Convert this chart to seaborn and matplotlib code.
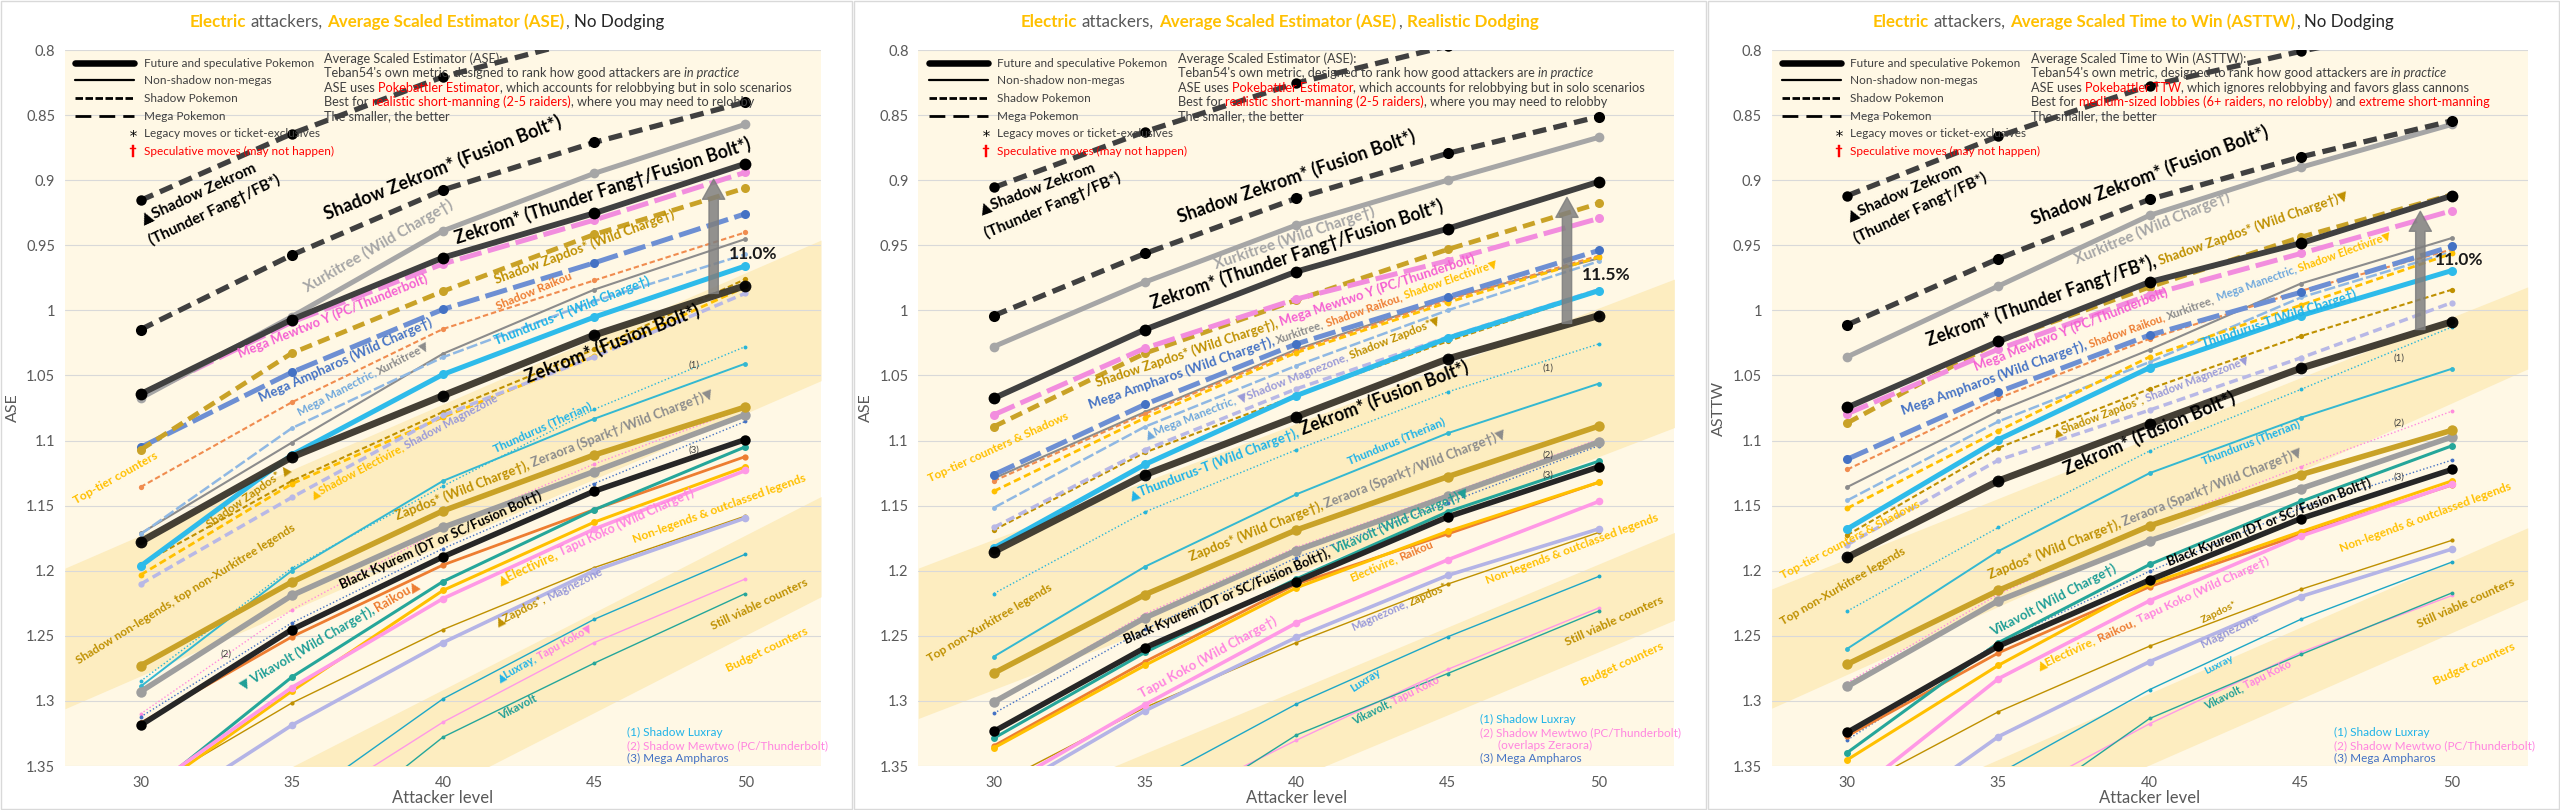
import numpy as np
import matplotlib
matplotlib.use("Agg")
import matplotlib.pyplot as plt
import matplotlib.transforms as mtransforms
from matplotlib.lines import Line2D
from matplotlib.legend_handler import HandlerLine2D
from matplotlib.patches import Rectangle
import seaborn as sns

sns.set_style("white")
plt.rcParams["font.family"] = ["Lato", "DejaVu Sans"]

LEVELS = [30, 35, 40, 45, 50]
METRICS = ["ASE", "ASE", "ASTTW"]
PCT_TEXT = ["11.0%", "11.5%", "11.0%"]

# one row per panel: ASE no dodging, ASE realistic dodging, ASTTW no dodging
shadow_zekrom_tf = [[0.9155, 0.8643, 0.8206, 0.790, 0.765],
                    [0.9056, 0.8627, 0.8254, 0.797, 0.772],
                    [0.9119, 0.8663, 0.8274, 0.801, 0.777]]
shadow_zekrom_fb = [[1.0147, 0.9575, 0.9075, 0.871, 0.840],
                    [1.004, 0.9563, 0.9139, 0.8794, 0.8512],
                    [1.0111, 0.9603, 0.9147, 0.8821, 0.8544]]
xurkitree_wc = [[1.0675, 1.0048, 0.9389, 0.8948, 0.8571],
                [1.0278, 0.9782, 0.9345, 0.900, 0.8671],
                [1.0357, 0.9813, 0.927, 0.8901, 0.8571]]
zekrom_tf = [[1.0643, 1.0071, 0.9595, 0.9254, 0.8873],
             [1.0675, 1.0147, 0.9702, 0.9373, 0.9012],
             [1.0746, 1.0238, 0.9782, 0.9484, 0.9119]]
mega_mewtwo_y = [[1.066, 1.009, 0.9643, 0.9306, 0.894],
                 [1.0802, 1.029, 0.9913, 0.9619, 0.9294],
                 [1.0794, 1.0298, 0.9881, 0.9563, 0.9234]]
shadow_zapdos_wc = [[1.1071, 1.0329, 0.9853, 0.9417, 0.906],
                    [1.0893, 1.0329, 0.9921, 0.9532, 0.9179],
                    [1.0865, 1.0238, 0.9821, 0.9437, 0.9111]]
mega_ampharos_wc = [[1.1052, 1.0476, 0.9992, 0.9635, 0.9258],
                    [1.1262, 1.0722, 1.0258, 0.9897, 0.954],
                    [1.1143, 1.0627, 1.019, 0.9861, 0.9508]]
shadow_raikou = [[1.1357, 1.0706, 1.0143, 0.977, 0.9401],
                 [1.131, 1.0794, 1.031, 0.992, 0.958],
                 [1.1222, 1.0675, 1.0218, 0.985, 0.9532]]
xurkitree = [[1.1714, 1.1016, 1.0333, 0.9841, 0.9452],
             [1.129, 1.078, 1.030, 0.991, 0.960],
             [1.1357, 1.0774, 1.0302, 0.9794, 0.9444]]
mega_manectric = [[1.172, 1.0905, 1.036, 0.993, 0.957],
                  [1.1516, 1.0893, 1.0425, 1.000, 0.9623],
                  [1.146, 1.0853, 1.0397, 0.9901, 0.955]]
shadow_electivire = [[1.2032, 1.1333, 1.082, 1.035, 0.982],
                     [1.1389, 1.0825, 1.0325, 0.994, 0.9591],
                     [1.152, 1.0925, 1.0357, 0.996, 0.9563]]
shadow_zapdos = [[1.1952, 1.131, 1.078, 1.030, 0.976],
                 [1.1687, 1.1091, 1.0655, 1.0238, 0.9853],
                 [1.1726, 1.1056, 1.0603, 1.0198, 0.9841]]
shadow_magnezone = [[1.2103, 1.1437, 1.0806, 1.0357, 0.9869],
                    [1.1667, 1.1071, 1.0603, 1.0206, 0.9841],
                    [1.180, 1.115, 1.0766, 1.0365, 0.994]]
thundurus_t_wc = [[1.1964, 1.111, 1.0492, 1.0052, 0.9659],
                  [1.1825, 1.1183, 1.0655, 1.0214, 0.9849],
                  [1.1679, 1.0992, 1.044, 1.004, 0.9694]]
zekrom_fb = [[1.1778, 1.1127, 1.0655, 1.019, 0.981],
             [1.1853, 1.1262, 1.0817, 1.0373, 1.004],
             [1.1897, 1.131, 1.0873, 1.0444, 1.0087]]
shadow_luxray = [[1.2849, 1.198, 1.135, 1.076, 1.0278],
                 [1.2175, 1.1548, 1.1071, 1.0627, 1.0258],
                 [1.231, 1.1667, 1.108, 1.0607, 1.0127]]
thundurus_therian = [[1.2889, 1.2, 1.131, 1.0833, 1.0409],
                     [1.2659, 1.1968, 1.1413, 1.0944, 1.0563],
                     [1.2599, 1.1849, 1.125, 1.0825, 1.0448]]
zapdos_wc = [[1.273, 1.2087, 1.154, 1.1111, 1.0742],
             [1.2786, 1.2183, 1.1687, 1.1278, 1.0889],
             [1.2718, 1.2151, 1.1655, 1.1262, 1.0921]]
zeraora = [[1.2929, 1.219, 1.1667, 1.1238, 1.0802],
           [1.3008, 1.2361, 1.1845, 1.1429, 1.1012],
           [1.2889, 1.223, 1.177, 1.1369, 1.0972]]
shadow_mewtwo = [[1.31, 1.23, 1.168, 1.118, 1.075],
                 [1.301, 1.233, 1.182, 1.141, 1.099],
                 [1.286, 1.218, 1.165, 1.12, 1.0774]]
mega_ampharos = [[1.3123, 1.24, 1.183, 1.133, 1.0853],
                 [1.3095, 1.245, 1.19, 1.148, 1.104],
                 [1.33, 1.255, 1.2004, 1.152, 1.115]]
black_kyurem = [[1.3187, 1.2452, 1.1893, 1.1389, 1.0992],
                [1.3234, 1.2591, 1.2083, 1.1587, 1.1202],
                [1.3242, 1.2579, 1.2071, 1.1599, 1.1222]]
raikou = [[1.317, 1.2508, 1.1956, 1.153, 1.1123],
          [1.3345, 1.2698, 1.2103, 1.1718, 1.1321],
          [1.327, 1.2631, 1.2123, 1.172, 1.1341]]
vikavolt_wc = [[1.375, 1.2817, 1.2083, 1.1532, 1.1048],
               [1.3286, 1.2627, 1.2063, 1.1548, 1.1159],
               [1.3397, 1.2552, 1.1952, 1.1468, 1.104]]
electivire = [[1.375, 1.2925, 1.2151, 1.1627, 1.1202],
              [1.3361, 1.2726, 1.2131, 1.1698, 1.1321],
              [1.3452, 1.2726, 1.21, 1.17, 1.131]]
tapu_koko_wc = [[1.372, 1.2897, 1.2214, 1.168, 1.123],
                [1.37, 1.3028, 1.2401, 1.1917, 1.1468],
                [1.375, 1.2829, 1.223, 1.1734, 1.1337]]
zapdos = [[1.37, 1.3016, 1.2452, 1.1976, 1.158],
          [1.365, 1.305, 1.2552, 1.2103, 1.1706],
          [1.37, 1.3083, 1.2579, 1.2143, 1.1766]]
magnezone = [[1.394, 1.3187, 1.2552, 1.2, 1.1595],
             [1.375, 1.3075, 1.2512, 1.2036, 1.1679],
             [1.41, 1.3274, 1.2698, 1.2198, 1.1833]]
luxray = [[1.47, 1.381, 1.2984, 1.2373, 1.1873],
          [1.45, 1.365, 1.3024, 1.2508, 1.2044],
          [1.44, 1.356, 1.2913, 1.2373, 1.1933]]
tapu_koko = [[1.48, 1.39, 1.3163, 1.2552, 1.2063],
             [1.48, 1.388, 1.3302, 1.2758, 1.2286],
             [1.47, 1.38, 1.3175, 1.2627, 1.219]]
vikavolt = [[1.51, 1.42, 1.3278, 1.271, 1.2175],
            [1.48, 1.40, 1.3262, 1.279, 1.231],
            [1.48, 1.395, 1.3135, 1.2643, 1.217]]

# background bands: y at left / right edge for the top and bottom edges
band_top_tier = [[1.198, 0.946, 1.306, 1.054],
                 [1.198, 0.976, 1.3135, 1.09],
                 [1.214, 0.982, 1.3056, 1.045]]
band_viable = [[1.4396, 1.143, 1.5166, 1.22],
               [1.413, 1.1706, 1.4804, 1.238],
               [1.4212, 1.167, 1.4762, 1.222]]

# colour, line kind, width, marker size, marker colour
STYLE = {
    "luxray": ("#1EA7C6", "solid", 1.0, 2.8, None),
    "tapu_koko": ("#FF99E6", "solid", 1.0, 2.8, None),
    "vikavolt": ("#25A69A", "solid", 1.0, 2.8, None),
    "zapdos": ("#BF9000", "solid", 1.0, 3.0, None),
    "magnezone": ("#B4B4E6", "solid", 2.6, 5.5, None),
    "shadow_luxray": ("#26B5DA", "dotted", 1.0, 2.8, None),
    "shadow_mewtwo": ("#FF8CDD", "dotted", 1.0, 2.8, None),
    "mega_ampharos": ("#4472C4", "dotted", 1.0, 2.8, None),
    "thundurus_therian": ("#34B8D1", "solid", 1.4, 3.5, None),
    "xurkitree": ("#8C8C8C", "solid", 1.5, 3.5, None),
    "shadow_raikou": ("#F08C4F", "shadow", 1.5, 3.8, None),
    "mega_manectric": ("#8FB8E3", "mega", 1.8, 3.5, None),
    "shadow_zapdos": ("#BF9000", "shadow", 1.5, 3.8, None),
    "shadow_electivire": ("#FFC000", "shadow", 2.0, 4.2, None),
    "shadow_magnezone": ("#B8B8E6", "shadow", 2.5, 4.5, None),
    "raikou": ("#ED7D31", "solid", 2.0, 4.5, None),
    "electivire": ("#FFC000", "solid", 2.2, 5.0, None),
    "vikavolt_wc": ("#25A69A", "solid", 2.2, 5.0, None),
    "tapu_koko_wc": ("#FF99E6", "solid", 2.6, 5.5, None),
    "zeraora": ("#9E9E9E", "solid", 4.0, 7.5, None),
    "zapdos_wc": ("#C9A227", "solid", 4.0, 7.5, None),
    "black_kyurem": ("#262626", "solid", 4.0, 7.5, "#000000"),
    "thundurus_t_wc": ("#2EBBEA", "solid", 3.6, 6.5, None),
    "mega_ampharos_wc": ("#6D8FD3", "mega", 3.6, 6.5, "#4472C4"),
    "shadow_zapdos_wc": ("#C9A227", "shadow", 3.4, 6.5, None),
    "mega_mewtwo_y": ("#F28DDE", "mega", 3.6, 6.5, None),
    "xurkitree_wc": ("#A6A6A6", "solid", 3.6, 7.0, None),
    "zekrom_fb": ("#3A352B", "solid", 5.0, 8.5, "#000000"),
    "zekrom_tf": ("#404040", "solid", 4.2, 8.5, "#000000"),
    "shadow_zekrom_fb": ("#404040", "shadow", 3.8, 8.0, "#000000"),
    "shadow_zekrom_tf": ("#404040", "shadow", 3.8, 7.5, "#000000"),
}
SERIES = [
    ("luxray", luxray), ("tapu_koko", tapu_koko), ("vikavolt", vikavolt),
    ("zapdos", zapdos), ("magnezone", magnezone), ("shadow_luxray", shadow_luxray),
    ("shadow_mewtwo", shadow_mewtwo), ("mega_ampharos", mega_ampharos),
    ("thundurus_therian", thundurus_therian), ("xurkitree", xurkitree),
    ("shadow_raikou", shadow_raikou), ("mega_manectric", mega_manectric),
    ("shadow_zapdos", shadow_zapdos), ("shadow_electivire", shadow_electivire),
    ("shadow_magnezone", shadow_magnezone), ("raikou", raikou),
    ("electivire", electivire), ("vikavolt_wc", vikavolt_wc),
    ("tapu_koko_wc", tapu_koko_wc), ("zeraora", zeraora), ("zapdos_wc", zapdos_wc),
    ("black_kyurem", black_kyurem), ("thundurus_t_wc", thundurus_t_wc),
    ("mega_ampharos_wc", mega_ampharos_wc), ("shadow_zapdos_wc", shadow_zapdos_wc),
    ("mega_mewtwo_y", mega_mewtwo_y), ("xurkitree_wc", xurkitree_wc),
    ("zekrom_fb", zekrom_fb), ("zekrom_tf", zekrom_tf),
    ("shadow_zekrom_fb", shadow_zekrom_fb), ("shadow_zekrom_tf", shadow_zekrom_tf),
]
DASHES = {"shadow": (2.6, 1.4), "mega": (4.5, 1.3), "dotted": (1.0, 1.6)}

# text colours
K = "#000000"
GRAY = "#A6A6A6"
GRAY2 = "#8C8C8C"
PINK = "#F560D2"
PINK2 = "#FF85E0"
GOLD = "#BF9000"
BLUE = "#4472C4"
LBLUE = "#6FA8DC"
CYAN = "#1FB3E8"
TEAL = "#1E9E96"
ORANGE = "#ED7D31"
YEL = "#FFC000"
LAV = "#9A9AD8"
B = "bold"

labels_ase = [
    ((30.07, 0.9333), (33.82, 0.8929), [("▲Shadow Zekrom", K, 12, B)]),
    ((30.36, 0.9504), (34.63, 0.9028), [("(Thunder Fang†/FB*)", K, 12, B)]),
    ((36.16, 0.9306), (43.9, 0.8591), [("Shadow Zekrom* (Fusion Bolt*)", K, 12, B)]),
    ((40.48, 0.9492), (50.11, 0.877), [("Zekrom* (Thunder Fang†/Fusion Bolt*)", K, 12, B)]),
    ((35.53, 0.9861), (40.39, 0.9206), [("Xurkitree (Wild Charge†)", GRAY, 10.5, B)]),
    ((33.28, 1.0365), (39.49, 0.9782), [("Mega Mewtwo Y (PC/Thunderbolt)", PINK, 9, B)]),
    ((41.77, 0.9794), (47.68, 0.9286), [("Shadow Zapdos* (Wild Charge†)", GOLD, 9, B)]),
    ((41.83, 1.0), (44.29, 0.9762), [("Shadow Raikou", ORANGE, 7.5, B)]),
    ((34.0, 1.0706), (39.67, 1.0119), [("Mega Ampharos (Wild Charge†)", BLUE, 9, B)]),
    ((41.77, 1.027), (46.87, 0.9802), [("Thundurus-T (Wild Charge†)", CYAN, 9, B)]),
    ((42.82, 1.0556), (48.49, 1.004), [("Zekrom* (Fusion Bolt*)", K, 12, B)]),
    ((35.26, 1.0813), (39.58, 1.0286), [("Mega Manectric, ", LBLUE, 7.5, B), ("Xurkitree▼", GRAY2, 7.5, B)]),
    ((41.74, 1.1091), (44.94, 1.0754), [("Thundurus (Therian)", CYAN, 7.5, B)]),
    ((38.5, 1.1607), (48.94, 1.0667), [("Zapdos* (Wild Charge†), ", GOLD, 9, B),
                                       ("Zeraora (Spark†/Wild Charge†)▼", GRAY2, 9, B)]),
    ((27.88, 1.1488), (30.61, 1.1131), [("Top-tier counters", YEL, 8, B)]),
    ((32.29, 1.1675), (34.99, 1.123), [("Shadow Zapdos* ▲", GOLD, 8, B)]),
    ((35.71, 1.1448), (41.83, 1.0694), [("▲Shadow Electivire, ", YEL, 8, B), ("Shadow Magnezone", LAV, 8, B)]),
    ((27.97, 1.2718), (35.22, 1.1675), [("Shadow non-legends, top non-Xurkitree legends", GOLD, 8, B)]),
    ((36.66, 1.2143), (43.27, 1.1448), [("Black Kyurem (DT or SC/Fusion Bolt†)", K, 8.5, B)]),
    ((33.37, 1.2917), (39.22, 1.2123), [("▼ Vikavolt (Wild Charge†), ", TEAL, 9, B), ("Raikou▲", ORANGE, 9, B)]),
    ((41.88, 1.2103), (48.36, 1.1421), [("▲Electivire, ", YEL, 9, B), ("Tapu Koko (Wild Charge†)", PINK2, 9, B)]),
    ((46.33, 1.1786), (52.09, 1.1302), [("Non-legends & outclassed legends", YEL, 8, B)]),
    ((41.83, 1.2429), (45.3, 1.2024), [("▲Zapdos*, ", GOLD, 7.5, B), ("Magnezone", LAV, 7.5, B)]),
    ((48.94, 1.2452), (52.12, 1.2103), [("Still viable counters", GOLD, 8, B)]),
    ((49.44, 1.2778), (52.12, 1.248), [("Budget counters", YEL, 8, B)]),
    ((41.88, 1.2857), (44.94, 1.246), [("▲Luxray, ", CYAN, 7.5, B), ("Tapu Koko▼", PINK2, 7.5, B)]),
    ((41.92, 1.3143), (43.14, 1.2996), [("Vikavolt", TEAL, 7.5, B)]),
]
labels_dodge = [
    ((29.59, 0.9254), (33.37, 0.8929), [("▲Shadow Zekrom", K, 12, B)]),
    ((29.77, 0.9444), (34.21, 0.9008), [("(Thunder Fang†/FB*)", K, 12, B)]),
    ((36.16, 0.9333), (43.9, 0.871), [("Shadow Zekrom* (Fusion Bolt*)", K, 12, B)]),
    ((37.33, 0.9683), (42.64, 0.9266), [("Xurkitree (Wild Charge†)", GRAY, 10.5, B)]),
    ((35.26, 0.9992), (44.8, 0.9246), [("Zekrom* (Thunder Fang†/Fusion Bolt*)", K, 12, B)]),
    ((33.42, 1.0587), (45.97, 0.9623), [("Shadow Zapdos* (Wild Charge†), ", GOLD, 9, B),
                                        ("Mega Mewtwo Y (PC/Thunderbolt)", PINK, 9, B)]),
    ((33.19, 1.0754), (46.69, 0.9663), [("Mega Ampharos (Wild Charge†), ", BLUE, 9, B), ("Xurkitree, ", GRAY2, 7.5, B),
                                        ("Shadow Raikou, ", ORANGE, 7.5, B), ("Shadow Electivire▼", YEL, 7.5, B)]),
    ((35.08, 1.0992), (44.8, 1.0099), [("▲Mega Manectric, ", LBLUE, 8, B), ("▼Shadow Magnezone, ", LAV, 8, B),
                                       ("Shadow Zapdos*▼", GOLD, 8, B)]),
    ((34.54, 1.146), (45.7, 1.0476), [("▲Thundurus-T (Wild Charge†), ", CYAN, 9, B),
                                      ("Zekrom* (Fusion Bolt*)", K, 12, B)]),
    ((27.88, 1.1317), (32.52, 1.0825), [("Top-tier counters & Shadows", YEL, 8, B)]),
    ((41.74, 1.1183), (44.94, 1.0873), [("Thundurus (Therian)", CYAN, 7.5, B)]),
    ((36.52, 1.1925), (46.96, 1.0972), [("Zapdos* (Wild Charge†), ", GOLD, 9, B),
                                        ("Zeraora (Spark†/Wild Charge†)▼", GRAY2, 9, B)]),
    ((34.36, 1.256), (45.7, 1.1429), [("Black Kyurem (DT or SC/Fusion Bolt†), ", K, 9, B),
                                      ("Vikavolt (Wild Charge†)▼", TEAL, 9, B)]),
    ((41.83, 1.2083), (44.53, 1.1817), [("Electivire, ", YEL, 7.5, B), ("Raikou", ORANGE, 7.5, B)]),
    ((27.88, 1.2706), (31.98, 1.2143), [("Top non-Xurkitree legends", GOLD, 8, B)]),
    ((34.9, 1.2976), (39.4, 1.2401), [("Tapu Koko (Wild Charge†)", PINK2, 9.5, B)]),
    ((46.33, 1.2103), (52.09, 1.1607), [("Non-legends & outclassed legends", YEL, 8, B)]),
    ((41.88, 1.2468), (45.01, 1.2143), [("Magnezone, ", LAV, 7.5, B), ("Zapdos*", GOLD, 7.5, B)]),
    ((48.94, 1.2579), (52.18, 1.2242), [("Still viable counters", GOLD, 8, B)]),
    ((49.48, 1.2889), (52.18, 1.2599), [("Budget counters", YEL, 8, B)]),
    ((41.88, 1.2937), (42.82, 1.2798), [("Luxray", CYAN, 7.5, B)]),
    ((41.92, 1.3183), (44.76, 1.2857), [("Vikavolt, ", TEAL, 7.5, B), ("Tapu Koko", PINK2, 7.5, B)]),
]
labels_asttw = [
    ((30.07, 0.9306), (33.82, 0.8929), [("▲Shadow Zekrom", K, 12, B)]),
    ((30.31, 0.9484), (34.63, 0.9008), [("(Thunder Fang†/FB*)", K, 12, B)]),
    ((36.16, 0.9345), (43.9, 0.8671), [("Shadow Zekrom* (Fusion Bolt*)", K, 12, B)]),
    ((37.6, 0.9643), (42.73, 0.9147), [("Xurkitree (Wild Charge†)", GRAY, 10.5, B)]),
    ((32.7, 1.0278), (46.6, 0.9147), [("Zekrom* (Thunder Fang†/FB*), ", K, 12, B),
                                      ("Shadow Zapdos* (Wild Charge†)▼", GOLD, 9, B)]),
    ((34.27, 1.0468), (40.62, 0.9889), [("Mega Mewtwo Y (PC/Thunderbolt)", PINK, 9, B)]),
    ((31.84, 1.0802), (48.04, 0.9444), [("Mega Ampharos (Wild Charge†), ", BLUE, 9, B), ("Shadow Raikou, ", ORANGE, 7.5, B),
                                        ("Xurkitree, ", GRAY2, 7.5, B), ("Mega Manectric, ", LBLUE, 7.5, B),
                                        ("Shadow Electivire▼", YEL, 7.5, B)]),
    ((41.77, 1.0286), (46.87, 0.990), [("Thundurus-T (Wild Charge†)", CYAN, 9, B)]),
    ((36.88, 1.0972), (43.36, 1.0397), [("▲Shadow Zapdos*, ", GOLD, 7.5, B), ("Shadow Magnezone▼", LAV, 7.5, B)]),
    ((37.27, 1.127), (42.85, 1.0714), [("Zekrom* (Fusion Bolt*)", K, 12, B)]),
    ((41.77, 1.1183), (44.98, 1.0893), [("Thundurus (Therian)", CYAN, 7.5, B)]),
    ((27.88, 1.2063), (32.47, 1.15), [("Top-tier counters & Shadows", YEL, 8, B)]),
    ((27.88, 1.2421), (31.98, 1.1865), [("Top non-Xurkitree legends", GOLD, 8, B)]),
    ((34.72, 1.2063), (45.07, 1.1111), [("Zapdos* (Wild Charge†), ", GOLD, 9, B),
                                        ("Zeraora (Spark†/Wild Charge†)▼", GRAY2, 9, B)]),
    ((34.81, 1.25), (38.89, 1.2004), [("Vikavolt (Wild Charge†)", TEAL, 9, B)]),
    ((40.66, 1.1964), (47.35, 1.1349), [("Black Kyurem (DT or SC/Fusion Bolt†)", K, 8.5, B)]),
    ((36.34, 1.2758), (43.99, 1.1944), [("▲Electivire, ", YEL, 9, B), ("Raikou, ", ORANGE, 9, B),
                                        ("Tapu Koko (Wild Charge†)", PINK2, 9, B)]),
    ((41.77, 1.2401), (42.91, 1.227), [("Zapdos*", GOLD, 7.5, B)]),
    ((41.77, 1.2599), (43.63, 1.2381), [("Magnezone", LAV, 7.5, B)]),
    ((41.88, 1.2798), (42.78, 1.269), [("Luxray", CYAN, 7.5, B)]),
    ((41.88, 1.3063), (44.71, 1.2738), [("Vikavolt, ", TEAL, 7.5, B), ("Tapu Koko", PINK2, 7.5, B)]),
    ((46.33, 1.1857), (52.03, 1.1369), [("Non-legends & outclassed legends", YEL, 8, B)]),
    ((48.9, 1.244), (52.12, 1.2103), [("Still viable counters", GOLD, 8, B)]),
    ((49.44, 1.2877), (52.12, 1.2599), [("Budget counters", YEL, 8, B)]),
]
LABELS = [labels_ase, labels_dodge, labels_asttw]

# small (n) tags near lines and footnote positions
tags = [[("(1)", 48.13, 1.0417), ("(2)", 32.65, 1.2639), ("(3)", 48.13, 1.1071)],
        [("(1)", 48.13, 1.0444), ("(2)", 48.13, 1.1111), ("(3)", 48.13, 1.1262)],
        [("(1)", 48.07, 1.0369), ("(2)", 48.07, 1.0865), ("(3)", 48.07, 1.1278)]]
footnotes = [[("(1) Shadow Luxray", CYAN, 1.3246), ("(2) Shadow Mewtwo (PC/Thunderbolt)", PINK2, 1.3345),
              ("(3) Mega Ampharos", BLUE, 1.3444)],
             [("(1) Shadow Luxray", CYAN, 1.3143), ("(2) Shadow Mewtwo (PC/Thunderbolt)", PINK2, 1.3242),
              ("      (overlaps Zeraora)", PINK2, 1.3341), ("(3) Mega Ampharos", BLUE, 1.344)],
             [("(1) Shadow Luxray", CYAN, 1.3246), ("(2) Shadow Mewtwo (PC/Thunderbolt)", PINK2, 1.3345),
              ("(3) Mega Ampharos", BLUE, 1.3444)]]
pct_y = [0.9603, 0.9766, 0.9655]

DARK = "#404040"
RED = "#FF0000"
info_ase = [
    [("Average Scaled Estimator (ASE):", DARK)],
    [("Teban54's own metric, designed to rank how good attackers are ", DARK), ("in practice", DARK, "italic")],
    [("ASE uses ", DARK), ("Pokebattler Estimator", RED), (", which accounts for relobbying but in solo scenarios", DARK)],
    [("Best for ", DARK), ("realistic short-manning (2-5 raiders)", RED), (", where you may need to relobby", DARK)],
    [("The smaller, the better", DARK)],
]
info_asttw = [
    [("Average Scaled Time to Win (ASTTW):", DARK)],
    [("Teban54's own metric, designed to rank how good attackers are ", DARK), ("in practice", DARK, "italic")],
    [("ASE uses ", DARK), ("Pokebattler TTW", RED), (", which ignores relobbying and favors glass cannons", DARK)],
    [("Best for ", DARK), ("medium-sized lobbies (6+ raiders, no relobby)", RED), (" and ", DARK),
     ("extreme short-manning", RED)],
    [("The smaller, the better", DARK)],
]
INFO = [info_ase, info_ase, info_asttw]
info_baselines = [0.8099, 0.821, 0.8321, 0.8429, 0.854]

TITLE_GRAY = "#595959"
titles = [
    [("Electric", YEL, 14, B), (" attackers, ", TITLE_GRAY, 14), ("Average Scaled Estimator (ASE)", YEL, 14, B),
     (", ", TITLE_GRAY, 14), ("No Dodging", "#262626", 14)],
    [("Electric", YEL, 14, B), (" attackers, ", TITLE_GRAY, 14), ("Average Scaled Estimator (ASE)", YEL, 14, B),
     (", ", TITLE_GRAY, 14), ("Realistic Dodging", YEL, 14, B)],
    [("Electric", YEL, 14, B), (" attackers, ", TITLE_GRAY, 14), ("Average Scaled Time to Win (ASTTW)", YEL, 14, B),
     (", ", TITLE_GRAY, 14), ("No Dodging", "#262626", 14)],
]
title_len = [475, 519, 521]

W, H = 2560, 810
fig = plt.figure(figsize=(W / 100, H / 100), dpi=100)
fig.patch.set_facecolor("white")
renderer = fig.canvas.get_renderer()


def measure(s, size, weight, style):
    t = fig.text(0, 0, s, fontsize=size, fontweight=weight, fontstyle=style)
    w = t.get_window_extent(renderer).width
    t.remove()
    return w


def rich(owner, base, x, y, pieces, angle=0.0, target=None, ha="left", clamp=(0.75, 1.3), z=8):
    parts, total = [], 0.0
    for p in pieces:
        s, color, size = p[0], p[1], p[2]
        weight = p[3] if len(p) > 3 else "normal"
        style = p[4] if len(p) > 4 else "normal"
        core = s.strip(" ")
        lead = len(s) - len(s.lstrip(" "))
        trail = len(s) - len(s.rstrip(" "))
        sp = measure("x x", size, weight, style) - measure("xx", size, weight, style)
        w = measure(core, size, weight, style) if core else 0.0
        parts.append((core, color, size, weight, style, lead * sp, w, trail * sp))
        total += lead * sp + w + trail * sp
    k = 1.0
    if target is not None and total > 0:
        k = float(np.clip(target / total, *clamp))
    d = -total * k / 2 if ha == "center" else 0.0
    c, sn = np.cos(np.radians(angle)), np.sin(np.radians(angle))
    for core, color, size, weight, style, a, w, b in parts:
        d += a * k
        if core:
            tr = base + mtransforms.ScaledTranslation(d * c / fig.dpi, d * sn / fig.dpi, fig.dpi_scale_trans)
            owner.text(x, y, core, transform=tr, color=color, fontsize=size * k, fontweight=weight,
                       fontstyle=style, rotation=angle, rotation_mode="anchor", ha="left", va="baseline",
                       zorder=z)
        d += (w + b) * k


def place_label(ax, start, end, pieces):
    p0 = ax.transData.transform(start)
    p1 = ax.transData.transform(end)
    dx, dy = p1 - p0
    rich(ax, ax.transData, start[0], start[1], pieces,
         angle=np.degrees(np.arctan2(dy, dx)), target=np.hypot(dx, dy))


class RightMark(HandlerLine2D):
    def get_xdata(self, legend, xdescent, ydescent, width, height, fontsize):
        xm = np.array([-xdescent + width * 0.97, -xdescent + width * 0.97])
        return xm, xm[:1]


PANEL_W = W / 3
for p in range(3):
    off = p * PANEL_W
    ax = fig.add_axes([(off + 65) / W, 44 / H, 756 / W, 716 / H])
    ax.set_facecolor("#FFF8E5")
    for s in ax.spines.values():
        s.set_visible(False)

    for band in (band_top_tier[p], band_viable[p]):
        ax.fill_between([27.5, 52.5], [band[0], band[1]], [band[2], band[3]],
                        color="#FDEDC0", lw=0, zorder=0.2)

    for i, (key, vals) in enumerate(SERIES):
        color, kind, lw, ms, mcol = STYLE[key]
        mcol = mcol or color
        sns.lineplot(x=LEVELS, y=vals[p], ax=ax, color=color, linewidth=lw, marker="o",
                     markersize=ms, markerfacecolor=mcol, markeredgecolor=mcol, markeredgewidth=0,
                     errorbar=None, sort=False, zorder=2 + i * 0.05)
        line = ax.lines[-1]
        if kind in DASHES:
            line.set_dashes(DASHES[kind])
        if key == "zekrom_fb":
            line.set_alpha(0.95)

    ax.set_xlim(27.5, 52.5)
    ax.set_ylim(1.35, 0.8)
    yt = np.round(np.arange(0.8, 1.351, 0.05), 2)
    ax.set_yticks(yt)
    ax.set_yticklabels([f"{v:g}" for v in yt])
    ax.set_xticks(LEVELS)
    ax.set_xticklabels([str(v) for v in LEVELS])
    ax.tick_params(length=0, labelcolor="#595959", labelsize=10.5, pad=7)
    ax.yaxis.grid(True, color="#D9D9D9", lw=0.8)
    ax.xaxis.grid(False)
    ax.set_axisbelow(True)
    ax.set_ylabel(METRICS[p], color="#595959", fontsize=11.5)
    ax.set_xlabel("Attacker level", color="#595959", fontsize=12)
    ax.yaxis.set_label_coords(-0.06, 0.5)
    ax.xaxis.set_label_coords(0.5, -0.033)

    # legend of line styles
    h_future = Line2D([], [], color="black", lw=4.7)
    h_plain = Line2D([], [], color="black", lw=1.6)
    h_shadow = Line2D([], [], color="black", lw=2.0, dashes=(2.7, 0.9))
    h_mega = Line2D([], [], color="black", lw=2.0, dashes=(5.7, 2.9))
    h_star = Line2D([], [], ls="none", marker="$*$", color="black", markersize=5, markeredgewidth=0)
    h_dag = Line2D([], [], ls="none", marker=r"$\dagger$", color=RED, markersize=9, markeredgewidth=0.3)
    leg = ax.legend([h_future, h_plain, h_shadow, h_mega, h_star, h_dag],
                    ["Future and speculative Pokemon", "Non-shadow non-megas", "Shadow Pokemon",
                     "Mega Pokemon", "Legacy moves or ticket-exclusives", "Speculative moves (may not happen)"],
                    loc="upper left", bbox_to_anchor=(0.0136, 0.989), frameon=False, fontsize=8.5,
                    handlelength=5.0, handletextpad=0.8, labelspacing=0.56, borderpad=0, borderaxespad=0,
                    handler_map={h_star: RightMark(), h_dag: RightMark()})
    for t in leg.get_texts():
        t.set_color(DARK)
    leg.get_texts()[-1].set_color(RED)

    # description block
    for line_pieces, yb in zip(INFO[p], info_baselines):
        pcs = [(q[0], q[1], 9.2, "normal", q[2] if len(q) > 2 else "normal") for q in line_pieces]
        rich(ax, ax.transData, 36.08, yb, pcs, z=6)

    # gap arrow between the two Zekrom forms
    ax.annotate("", xy=(48.95, zekrom_tf[p][-1] + 0.012), xytext=(48.95, zekrom_fb[p][-1] + 0.006),
                arrowprops=dict(arrowstyle="simple,head_length=0.9,head_width=1.0,tail_width=0.42",
                                color="#7F7F7F", alpha=0.85, mutation_scale=16, shrinkA=0, shrinkB=0),
                zorder=7)
    ax.text(49.44, pct_y[p], PCT_TEXT[p], fontsize=12.5, fontweight="bold", color="#1A1A1A",
            va="baseline", zorder=9)

    for s, x, y in tags[p]:
        ax.text(x, y, s, fontsize=7, color="#404040", va="center", zorder=8)
    for s, c, y in footnotes[p]:
        ax.text(46.08, y, s, fontsize=8.5, color=c, va="center", zorder=8)

    for start, end, pieces in LABELS[p]:
        place_label(ax, start, end, pieces)

    # title and panel frame
    rich(fig, fig.transFigure, (off + PANEL_W / 2) / W, 1 - 27 / H, titles[p],
         ha="center", target=title_len[p], clamp=(0.8, 1.25))
    fig.add_artist(Rectangle(((off + 1) / W, 1 / H), (PANEL_W - 2) / W, (H - 2) / H,
                             transform=fig.transFigure, fill=False, ec="#D9D9D9", lw=1))

fig.savefig("out.png", dpi=100, facecolor="white")
